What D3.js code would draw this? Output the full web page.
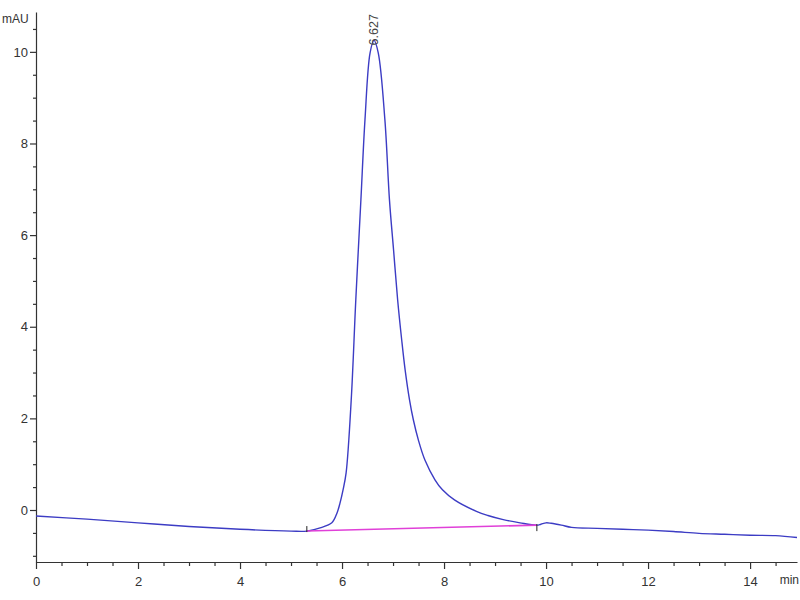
<!DOCTYPE html>
<html>
<head>
<meta charset="utf-8">
<script src="https://cdn.jsdelivr.net/npm/d3@7"></script>
<style>
  html, body { margin: 0; padding: 0; background: #fff; }
  svg { display: block; font-family: "Liberation Sans", Arial, sans-serif; }
</style>
</head>
<body>
<svg id="chart" width="800" height="600"></svg>
<script>
// Chromatogram trace (time in min, absorbance in mAU)
const times = [0, 1, 2, 3, 4, 5, 5.31, 5.57, 5.80, 5.90, 5.96, 6.02, 6.08, 6.18, 6.27, 6.37, 6.45, 6.55, 6.627,
  6.71, 6.84, 6.93, 7.01, 7.09, 7.17, 7.237, 7.324, 7.398, 7.496, 7.625, 7.822, 7.969, 8.204, 8.635, 8.86, 9.16, 9.49, 9.82,
  9.9, 10.0, 10.1, 10.3, 10.5, 11, 11.5, 12, 12.5, 13, 13.5, 14, 14.5, 14.92];
const signal = [-0.13, -0.20, -0.28, -0.36, -0.42, -0.46, -0.46, -0.39, -0.28, -0.07, 0.15, 0.44, 0.81, 2.40, 4.59, 6.77, 8.52, 9.98, 10.25,
  9.98, 8.52, 6.77, 5.68, 4.59, 3.71, 3.06, 2.40, 1.97, 1.53, 1.09, 0.66, 0.44, 0.22, -0.03, -0.12, -0.21, -0.28, -0.33,
  -0.31, -0.28, -0.29, -0.33, -0.38, -0.40, -0.42, -0.44, -0.47, -0.51, -0.53, -0.55, -0.56, -0.60];

// Integration baseline (start, end)
const baseTimes = [5.31, 9.82];
const baseValues = [-0.46, -0.33];

// Peak annotation
const peakTime = 6.627;
const peakValue = 10.25;
const peakLabel = "6.627";

// Axis ticks
const xMajorTicks = [0, 2, 4, 6, 8, 10, 12, 14];
const yMajorTicks = [0, 2, 4, 6, 8, 10];
const xUnit = "min";
const yUnit = "mAU";

const svg = d3.select("#chart");
const mLeft = 36, mTop = 12, mRight = 797, mBottom = 562;

const x = d3.scaleLinear().domain([0, 14.92]).range([mLeft, mRight]);
const y = d3.scaleLinear().domain([-1.135, 10.87]).range([mBottom, mTop]);

const axisColor = "#333";
const textColor = "#333";

// X axis
const xMinor = d3.range(0, 14.92, 0.5).filter(v => !xMajorTicks.includes(v));
const xAxisG = svg.append("g").attr("transform", `translate(0,${mBottom})`);
xAxisG.call(d3.axisBottom(x).tickValues(xMinor).tickSize(4).tickFormat(""))
  .call(g => g.select(".domain").remove());
xAxisG.append("g").call(d3.axisBottom(x).tickValues(xMajorTicks).tickSize(7).tickSizeOuter(0).tickFormat(d3.format("d")))
  .call(g => g.selectAll("text").attr("font-size", 13).attr("fill", textColor).attr("dy", "1.05em"));
xAxisG.selectAll("line, path").attr("stroke", axisColor).attr("stroke-width", 1.2);

// Y axis
const yMinor = d3.range(-1, 10.87, 0.5).filter(v => !yMajorTicks.includes(v));
const yAxisG = svg.append("g").attr("transform", `translate(${mLeft},0)`);
yAxisG.call(d3.axisLeft(y).tickValues(yMinor).tickSize(3).tickFormat(""))
  .call(g => g.select(".domain").remove());
yAxisG.append("g").call(d3.axisLeft(y).tickValues(yMajorTicks).tickSize(6).tickSizeOuter(0).tickFormat(d3.format("d")))
  .call(g => g.selectAll("text").attr("font-size", 13).attr("fill", textColor).attr("x", -8));
yAxisG.selectAll("line, path").attr("stroke", axisColor).attr("stroke-width", 1.2);

// Unit labels
svg.append("text").attr("x", 2).attr("y", 23).attr("font-size", 12).attr("fill", textColor).text(yUnit);
svg.append("text").attr("x", 799).attr("y", 584).attr("text-anchor", "end").attr("font-size", 12).attr("fill", textColor).text(xUnit);

// Trace
const data = times.map((t, i) => [t, signal[i]]);
const line = d3.line().x(d => x(d[0])).y(d => y(d[1])).curve(d3.curveCatmullRom.alpha(0.5));
svg.append("path").datum(data).attr("d", line)
  .attr("fill", "none").attr("stroke", "#3c3cc4").attr("stroke-width", 1.4);

// Integration baseline
const bdata = baseTimes.map((t, i) => [t, baseValues[i]]);
svg.append("path").datum(bdata).attr("d", d3.line().x(d => x(d[0])).y(d => y(d[1])))
  .attr("fill", "none").attr("stroke", "#e040d8").attr("stroke-width", 1.6);
svg.selectAll(".bmark").data(bdata).enter().append("line")
  .attr("x1", d => x(d[0])).attr("x2", d => x(d[0]))
  .attr("y1", (d, i) => y(d[1]) + (i === 0 ? -5 : -1))
  .attr("y2", (d, i) => y(d[1]) + (i === 0 ? 1 : 6))
  .attr("stroke", "#222").attr("stroke-width", 1);

// Peak label (rotated)
svg.append("text")
  .attr("transform", `translate(${x(peakTime) + 4},${y(peakValue) + 5}) rotate(-90)`)
  .attr("font-size", 12.5).attr("fill", "#444").text(peakLabel);
</script>
</body>
</html>
